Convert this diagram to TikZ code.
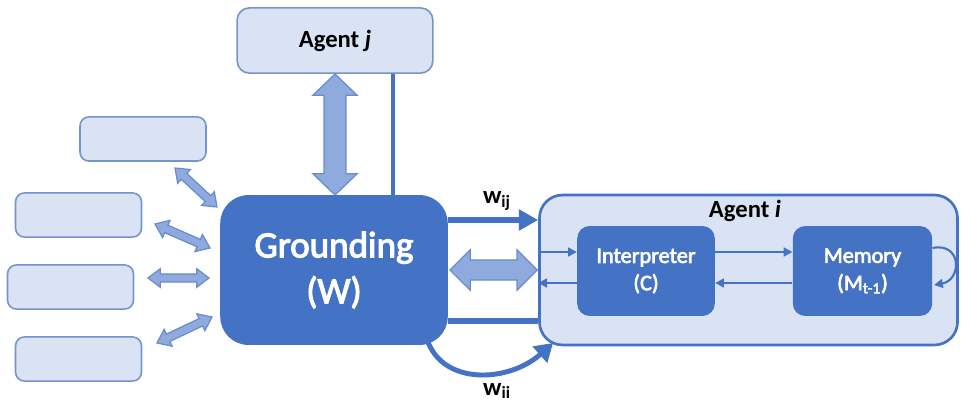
\documentclass[tikz,border=0pt]{standalone}
\usepackage{fontspec}
\setmainfont{Carlito}
\newfontfamily\medfont[FakeBold=3]{Carlito}
\usetikzlibrary{calc,arrows.meta}
\definecolor{dblue}{HTML}{4472C4}
\definecolor{lblue}{HTML}{DAE3F3}
\definecolor{mblue}{HTML}{8FAADC}
\definecolor{bord}{HTML}{7593CD}
\definecolor{arrbord}{HTML}{6A8BCE}
% block double arrow: #1,#2 end coordinates, #3 shaft half width, #4 head half width, #5 head length
\newcommand\blockdbl[5]{%
  \coordinate (ba1) at ($(#1)!#5!(#2)$);
  \coordinate (ba2) at ($(#2)!#5!(#1)$);
  \draw[blockarr] (#1) -- ($(ba1)!#4!90:(#2)$) -- ($(ba1)!#3!90:(#2)$)
    -- ($(ba2)!#3!-90:(#1)$) -- ($(ba2)!#4!-90:(#1)$) -- (#2)
    -- ($(ba2)!#4!90:(#1)$) -- ($(ba2)!#3!90:(#1)$)
    -- ($(ba1)!#3!-90:(#2)$) -- ($(ba1)!#4!-90:(#2)$) -- cycle;}
\begin{document}
\begin{tikzpicture}[x=0.567pt,y=-0.567pt,
  lightbox/.style={draw=bord, line width=0.9pt, fill=lblue, rounded corners=5pt},
  darkbox/.style={fill=dblue, text=white, align=center},
  blockarr/.style={draw=arrbord, line width=0.7pt, fill=mblue, line join=miter},
  thickline/.style={draw=dblue, line width=3pt},
  thinarr/.style={draw=dblue, line width=1.2pt, -{Triangle[length=5pt,width=5pt]}},
  wlabel/.style={font=\fontsize{14}{16}\selectfont\bfseries}]
\useasboundingbox (0,0) rectangle (961,402);

% nodes
\node[lightbox, rounded corners=7pt, minimum width=111pt, minimum height=37pt,
  font=\fontsize{14}{16}\selectfont\bfseries] (agentj) at (335,40.5) {Agent \textit{j}};
\node[darkbox, rounded corners=16pt, minimum width=129pt, minimum height=85pt,
  font=\fontsize{21}{26}\medfont] (ground) at (334,270) {Grounding\\(W)};
\node[draw=dblue, line width=1.5pt, fill=lblue, rounded corners=13pt,
  minimum width=237pt, minimum height=85pt] (agenti) at (748.5,270) {};
\node[font=\fontsize{14}{16}\selectfont\bfseries] (agentilabel) at (745,211) {Agent \textit{i}};
\node[darkbox, rounded corners=7pt, minimum width=78pt, minimum height=51pt,
  font=\fontsize{12.6}{15.5}\medfont] (interp) at (646,271) {Interpreter\\(C)};
\node[darkbox, rounded corners=7pt, minimum width=79pt, minimum height=51pt,
  font=\fontsize{12.6}{15.5}\medfont] (mem) at (862.5,271) {Memory\\(M\textsubscript{t-1})};

\node[lightbox, minimum width=71.4pt, minimum height=25pt] (l1) at (143,139) {};
\node[lightbox, minimum width=71.4pt, minimum height=25pt] (l2) at (78.5,215) {};
\node[lightbox, minimum width=71.4pt, minimum height=25pt] (l3) at (70.5,287) {};
\node[lightbox, minimum width=71.4pt, minimum height=25pt] (l4) at (78.5,359) {};

% agent j connections
\coordinate (vj1) at (335,74);
\coordinate (vj2) at (335,195);
\blockdbl{vj1}{vj2}{6.2pt}{12.5pt}{12pt}
\draw[draw=dblue, line width=2.2pt] (agentj.south -| 393,0) -- (ground.north -| 393,0);

% grounding -> agent i
\draw[thickline, -{Triangle[length=11pt,width=11.5pt]}] (ground.east |- 0,220) -- (agenti.west |- 0,220);
\node[wlabel] (wij) at (497,201) {w\textsubscript{ij}};
\coordinate (h1) at ($(ground.east |- 0,270)+(2,0)$);
\coordinate (h2) at ($(agenti.west |- 0,270)+(-1,0)$);
\blockdbl{h1}{h2}{5.7pt}{11.4pt}{11.4pt}
\draw[thickline] (ground.east |- 0,321) -- (agenti.west |- 0,321);
\coordinate (wiis) at (424,322);
\coordinate (wiie) at (553,343);
\draw[thickline, line width=2.8pt, -{Triangle[length=10pt,width=12pt]}]
  (wiis) .. controls (427,386) and (505,386) .. (wiie);
\node[wlabel] (wii) at (497,391) {w\textsubscript{ii}};

% inside agent i
\draw[thinarr] (agenti.west |- 0,252) -- (interp.west |- 0,252);
\draw[thinarr] (interp.west |- 0,283) -- (agenti.west |- 0,283);
\draw[thinarr] (interp.east |- 0,252) -- (mem.west |- 0,252);
\draw[thinarr] (mem.west |- 0,283) -- (interp.east |- 0,283);
\draw[thinarr] (mem.east |- 0,248) .. controls (962,242) and (962,280) .. (934,285);

% left small arrows
\coordinate (a1s) at (175,168); \coordinate (a1e) at (217,207);
\coordinate (a2s) at (155,224); \coordinate (a2e) at (210,248);
\coordinate (a3s) at (148,278); \coordinate (a3e) at (209,278);
\coordinate (a4s) at (157,343); \coordinate (a4e) at (212,317);
\blockdbl{a1s}{a1e}{2.3pt}{5.3pt}{7pt}
\blockdbl{a2s}{a2e}{2.3pt}{5.3pt}{7pt}
\blockdbl{a3s}{a3e}{2.3pt}{5.3pt}{7pt}
\blockdbl{a4s}{a4e}{2.3pt}{5.3pt}{7pt}
\end{tikzpicture}
\end{document}
